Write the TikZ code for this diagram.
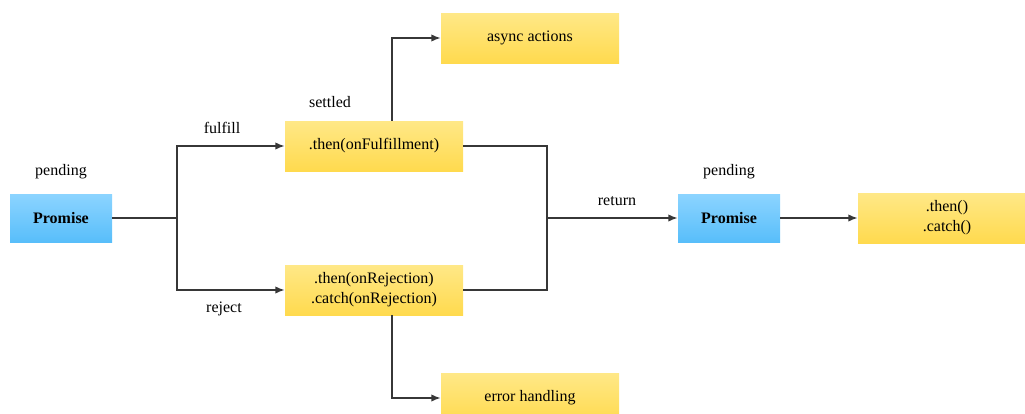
\documentclass[tikz,border=0pt]{standalone}
\usepackage{fontspec}
\setmainfont{Liberation Serif}
\newfontfamily\diagfont{Liberation Serif}
\usetikzlibrary{positioning,arrows.meta}
\definecolor{promtop}{RGB}{140,212,255}
\definecolor{prombot}{RGB}{88,190,250}
\definecolor{acttop}{RGB}{255,232,135}
\definecolor{actbot}{RGB}{255,218,78}
\definecolor{wire}{RGB}{55,55,55}
\tikzset{
  promise/.style={shade,top color=promtop,bottom color=prombot,
    minimum width=76.5pt,minimum height=36pt,inner sep=0pt,
    font=\diagfont\fontsize{12}{14}\selectfont\bfseries},
  handler/.style={shade,top color=acttop,bottom color=actbot,
    minimum width=133.5pt,minimum height=37.5pt,inner sep=0pt,align=center,
    font=\diagfont\fontsize{12}{15}\selectfont},
  tag/.style={font=\diagfont\fontsize{12}{14}\selectfont,inner sep=0pt},
  wire/.style={draw=wire,line width=1.1pt}
}
\begin{document}
\begin{tikzpicture}[>={Latex[length=7pt,width=5.5pt]},x=0.75pt,y=-0.75pt]
\useasboundingbox (0,0) rectangle (1025,414);
\clip (0,0) rectangle (1025,414);
% boxes
\node[promise] (p1) at (61,218) {Promise};
\node[handler] (ful) at (374,146) {.then(onFulfillment)};
\node[handler] (rej) at (374,290) {.then(onRejection)\\.catch(onRejection)};
\node[handler] (async) at (530,38) {async actions};
\node[handler] (err) at (530,398) {error handling};
\node[promise] (p2) at (729,218) {Promise};
\node[handler] (next) at (947,218) {.then()\\.catch()};
% labels
\node[tag] (pend1) at (61,172) {pending};
\node[tag] (sett) at (330,102) {settled};
\node[tag] (pend2) at (729,172) {pending};
\node[tag] (lfulfill) at (222,128) {fulfill};
\node[tag] (lreject) at (224,309) {reject};
\node[tag] (lreturn) at (617,201) {return};
% wires
\coordinate (split) at (177,218);
\coordinate (join) at (547,218);
\draw[wire] (p1.east) -- (split);
\draw[wire,->] (split) |- (ful.west);
\draw[wire,->] (split) |- (rej.west);
\draw[wire,->] ([xshift=13.5pt]ful.north) |- (async.west);
\draw[wire,->] ([xshift=13.5pt]rej.south) |- (err.west);
\draw[wire] (ful.east) -| (join);
\draw[wire] (rej.east) -| (join);
\draw[wire,->] (join) -- (p2.west);
\draw[wire,->] (p2.east) -- (next.west);
\end{tikzpicture}
\end{document}
